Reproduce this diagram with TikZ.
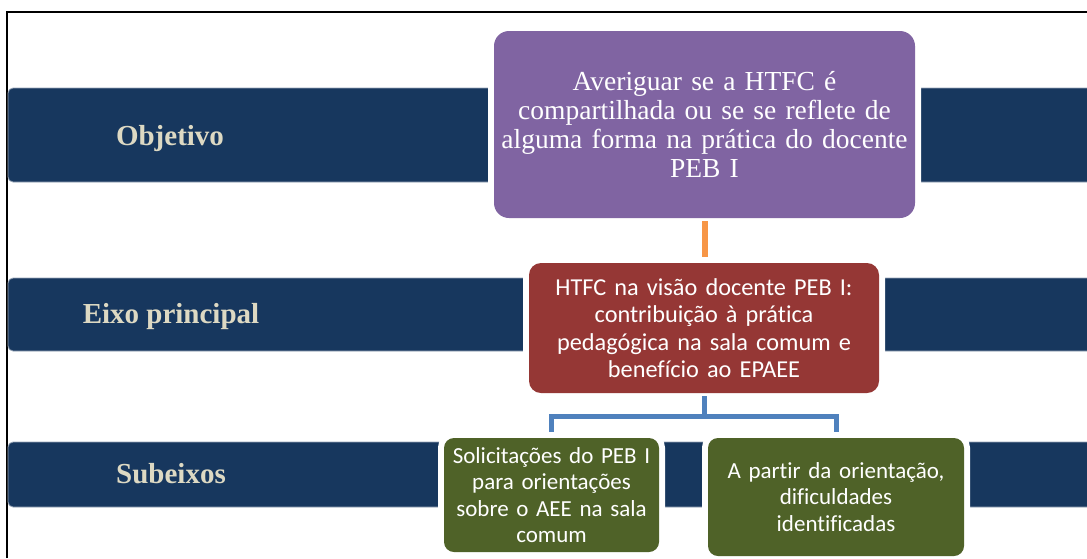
\documentclass[tikz,border=0pt]{standalone}
\usepackage{fontspec}
\setmainfont{Liberation Serif}
\newfontfamily\calibri[Ligatures=NoCommon]{Carlito}
\usetikzlibrary{positioning, calc}
\definecolor{cNavy}{RGB}{23,55,94}
\definecolor{cTan}{RGB}{221,217,195}
\definecolor{cPurple}{RGB}{128,100,162}
\definecolor{cRed}{RGB}{149,55,53}
\definecolor{cOlive}{RGB}{79,98,40}
\definecolor{cOrange}{RGB}{247,150,70}
\definecolor{cBlue}{RGB}{79,129,189}
\tikzset{
	band/.style     ={fill=cNavy, draw=cNavy!45!white, line width=0.8pt, rounded corners=5pt},
	bandtxt/.style  ={anchor=base, text=cTan, font=\fontsize{29}{33}\selectfont\bfseries},
	card/.style     ={rectangle, text=white, align=center, inner sep=0pt, preaction={draw=white, line width=12pt}},
	% boxes in the middle column
	goal/.style     ={card, fill=cPurple, rounded corners=15pt, font=\fontsize{27.5}{28.8}\selectfont},
	axis/.style     ={card, fill=cRed, rounded corners=12pt, font=\calibri\fontsize{24.3}{27.5}\selectfont},
	subaxis/.style  ={card, fill=cOlive, rounded corners=10pt, font=\calibri\fontsize{23}{26.5}\selectfont},
	orangeln/.style ={draw=cOrange, line width=6pt, shorten <=3pt, shorten >=6pt},
	blueln/.style   ={draw=cBlue, line width=5pt, shorten >=6pt},
}
\begin{document}
\begin{tikzpicture}[x=1pt, y=-1pt]
	\useasboundingbox (0,0) rectangle (1087,558);
	\draw[line width=2pt] (7,558) -- (7,12) -- (1087,12);
	% bands
	\draw[band] (1087,88) -- (8,88) -- (8,182) -- (1087,182);
	\draw[band] (1087,278) -- (8,278) -- (8,351) -- (1087,351);
	\draw[band] (1087,442) -- (8,442) -- (8,507) -- (1087,507);
	\node[bandtxt] (lObj) at (170,145) {Objetivo};
	\node[bandtxt] (lEixo) at (171,323) {Eixo principal};
	\node[bandtxt] (lSub) at (171,483) {Subeixos};
	% boxes
	\node[goal, minimum width=421pt, minimum height=187pt, text width=411pt] (obj) at (704.5,124.5)
		{Averiguar se a HTFC é\\ compartilhada ou se se reflete de\\ alguma forma na prática do docente\\ PEB I};
	\node[axis, minimum width=350pt, minimum height=130pt, text width=340pt] (eixo) at (704,328)
		{HTFC na visão docente PEB I:\\ contribuição à prática\\ pedagógica na sala comum e\\ benefício ao EPAEE};
	\node[subaxis, minimum width=215pt, minimum height=114pt, text width=207pt] (sub1) at (551.5,495)
		{Solicitações do PEB I\\ para orientações\\ sobre o AEE na sala\\ comum};
	\node[subaxis, minimum width=256pt, minimum height=118pt, text width=246pt] (sub2) at (836,497)
		{A partir da orientação,\\ dificuldades\\ identificadas};
	% connectors
	\draw[orangeln] (obj.south) -- (obj.south |- eixo.north);
	\coordinate (fork) at ($(eixo.south)+(0,23)$);
	\draw[blueln, shorten <=3pt] (eixo.south) -- (fork) -| (sub1.north);
	\draw[blueln] (fork) -| (sub2.north);
\end{tikzpicture}
\end{document}
